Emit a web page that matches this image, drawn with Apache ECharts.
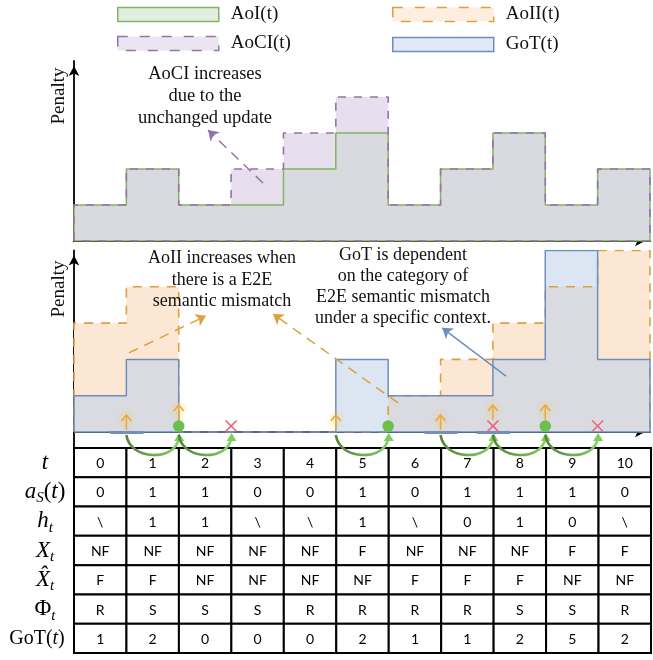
<!DOCTYPE html>
<html>
<head>
<meta charset="utf-8">
<script src="https://cdn.jsdelivr.net/npm/echarts@6/dist/echarts.min.js"></script>
<style>html,body{margin:0;padding:0;background:#fff;}#c{width:653px;height:660px;}</style>
</head>
<body>
<div id="c"></div>
<script>
// ---- data ----
const T = [0,1,2,3,4,5,6,7,8,9,10];
const aoi  = [1,2,1,1,2,3,1,2,3,1,2];
const aoci = [1,2,1,2,3,4,1,2,3,1,2];
const aoii = [3,4,0,0,0,0,1,2,3,4,5];
const got  = [1,2,0,0,0,2,1,1,2,5,2];
const sharedBottom = [1,2,0,0,0,0,1,1,2,4,2];   // grey overlap of AoII and GoT
const aS   = [0,1,1,0,0,1,0,1,1,1,0];
const hT   = ['\\','1','1','\\','\\','1','\\','0','1','0','\\'];
const xT   = ['NF','NF','NF','NF','NF','F','NF','NF','NF','F','F'];
const xHat = ['F','F','NF','NF','NF','NF','F','F','F','NF','NF'];
const phiT = ['R','S','S','S','R','R','R','R','S','S','R'];
const updateT    = [1,2,5,7,8,9];
const deliveredT = [2,6,9];
const failedT    = [3,8,10];
const mismatchT  = [1,7,8];
const transitions = [[1,2],[2,3],[5,6],[7,8],[8,9],[9,10]];
const rowKeys = ['t','aS','h','X','Xhat','Phi','GoT'];
const tableRows = [T, aS, hT, xT, xHat, phiT, got];

// annotation arrows (data coordinates)
const arrowAoCI = [[3.61,1.61],[2.56,3.08]];
const arrowAoII1 = [[1.05,2.18],[2.52,3.2]];
const arrowAoII2 = [[6.19,0.8],[3.8,3.25]];
const arrowGoT = [[8.25,1.54],[7.03,2.87]];

function stepPoints(vals, withReturn){
  const pts=[]; let i=0;
  while(i<vals.length){
    if(!(vals[i]>0)){i++;continue;}
    let j=i; while(j+1<vals.length && vals[j+1]>0) j++;
    if(pts.length) pts.push([i,null]);
    pts.push([i,0]);
    for(let k=i;k<=j;k++) pts.push([k,vals[k]]);
    pts.push([j+1,vals[j]]);
    pts.push([j+1,0]);
    if(withReturn) pts.push([i,0]);
    i=j+1;
  }
  return pts;
}

const SERIF='"Liberation Serif", "Times New Roman", serif';
const C = {green:'#82b366', purple:'#9673a6', orange:'#dca13c', blue:'#6c8ebf'};

function arrowML(pair, color, dashed){
  return {silent:true, symbol:['none','arrow'], symbolSize:10, label:{show:false},
    lineStyle:{color:color, width:1.5, type: dashed?[10,7]:'solid'},
    emphasis:{disabled:true}, animation:false,
    data:[[{coord:pair[0]},{coord:pair[1]}]]};
}

const axisLineStyle = {show:true, onZero:true, symbol:['none','arrow'], symbolSize:[8,10], symbolOffset:[0,-5], lineStyle:{color:'#000', width:1.8}};
function xAx(idx, show){
  return {type:'value', gridIndex:idx, min:0, max:11, show:show, axisLine:axisLineStyle,
    axisTick:{show:false}, axisLabel:{show:false}, splitLine:{show:false}};
}
function yAx(idx, min, max){
  return {type:'value', gridIndex:idx, min:min, max:max, axisLine:axisLineStyle,
    axisTick:{show:false}, axisLabel:{show:false}, splitLine:{show:false}};
}

const rowLabelText = {
  t: '{it|t}',
  aS: '{it|a}{sub|S}{rm|(}{it|t}{rm|)}',
  h: '{it|h}{sub|t}',
  X: '{it|X}{sub|t}',
  Xhat: '{it|X\u0302}{sub|t}',
  Phi: '{rm|\u03A6}{sub|t}',
  GoT: '{rm2|GoT(}{it2|t}{rm2e|)}'
};

function legendOf(name, left, top, fill, stroke, dash){
  return {show:true, selectedMode:false, left:left, top:top, padding:0, itemWidth:101, itemHeight:14, icon:'rect',
    textStyle:{fontFamily:SERIF, fontSize:19, color:'#111', padding:[0,0,0,7]},
    data:[{name:name, icon:'rect', itemStyle:{color:fill, borderColor:stroke, borderWidth:1.5, borderType: dash?[10,12]:'solid'}}]};
}

const chart = echarts.init(document.getElementById('c'), null, {renderer:'canvas'});
const lineBase = {type:'line', step:'end', showSymbol:false, symbol:'none', animation:false, silent:true, connectNulls:false};

chart.setOption({
  animation:false,
  legend:[
    legendOf('AoI(t)',117,5,'#e2efe0',C.green,false),
    legendOf('AoII(t)',392,5,'#fdeee0',C.orange,true),
    legendOf('AoCI(t)',117,34,'#ebe4f1',C.purple,true),
    legendOf('GoT(t)',392,35,'#e0e9f5',C.blue,false)
  ],
  grid:[
    {left:74, right:3, top:61, height:180},
    {left:74, right:3, top:250.5, height:197.5},
    {left:74, right:2, top:448, height:205}
  ],
  xAxis:[xAx(0,true), xAx(1,true), {type:'value', gridIndex:2, min:0, max:11, show:false}],
  yAxis:[yAx(0,0,5), yAx(1,-0.44,5),
    {type:'category', gridIndex:2, data:rowKeys, inverse:true, boundaryGap:true,
     axisLine:{show:false}, axisTick:{show:false}, splitLine:{show:false},
     axisLabel:{margin:29, align:'center', formatter:(v)=>rowLabelText[v],
       rich:{
         it:{fontFamily:SERIF, fontStyle:'italic', fontSize:23, lineHeight:28, color:'#000'},
         rm:{fontFamily:SERIF, fontSize:23, lineHeight:28, color:'#000'},
         sub:{fontFamily:SERIF, fontStyle:'italic', fontSize:15, lineHeight:16, verticalAlign:'bottom', color:'#000'},
         rm2:{fontFamily:SERIF, fontSize:20, lineHeight:28, color:'#000'},
         rm2e:{fontFamily:SERIF, fontSize:20, lineHeight:28, color:'#000', padding:[0,16,0,0]},
         it2:{fontFamily:SERIF, fontStyle:'italic', fontSize:20, lineHeight:28, color:'#000'}
       }}}
  ],
  graphic:[
    {type:'text', x:59, y:96, rotation:Math.PI/2, style:{text:'Penalty', font:'19px '+SERIF, fill:'#111', align:'center', verticalAlign:'middle', textAlign:'center', textVerticalAlign:'middle'}},
    {type:'text', x:59, y:289, rotation:Math.PI/2, style:{text:'Penalty', font:'19px '+SERIF, fill:'#111', align:'center', verticalAlign:'middle', textAlign:'center', textVerticalAlign:'middle'}},
    {type:'text', x:205, y:96, z:20, style:{text:'AoCI increases\ndue to the\nunchanged update', font:'18.5px '+SERIF, lineHeight:22, fill:'#111', align:'center', verticalAlign:'middle', textAlign:'center', textVerticalAlign:'middle'}},
    {type:'text', x:222, y:280, z:20, style:{text:'AoII increases when\nthere is a E2E\nsemantic mismatch', font:'18px '+SERIF, lineHeight:21.5, fill:'#111', align:'center', verticalAlign:'middle', textAlign:'center', textVerticalAlign:'middle'}},
    {type:'text', x:403, y:286.5, z:20, style:{text:'GoT is dependent\non the category of\nE2E semantic mismatch\nunder a specific context.', font:'18px '+SERIF, lineHeight:21, fill:'#111', align:'center', verticalAlign:'middle', textAlign:'center', textVerticalAlign:'middle'}}
  ],
  series:[
    // ---- top chart ----
    Object.assign({}, lineBase, {name:'AoCI(t)', xAxisIndex:0, yAxisIndex:0, data:stepPoints(aoci,false),
      lineStyle:{width:0, opacity:0}, areaStyle:{color:'#e7dfee', opacity:1}, itemStyle:{color:C.purple}}),
    Object.assign({}, lineBase, {name:'AoI(t)', xAxisIndex:0, yAxisIndex:0, data:stepPoints(aoi,true),
      lineStyle:{width:1.5, color:C.green}, areaStyle:{color:'#d9dae0', opacity:1}, itemStyle:{color:C.green}}),
    Object.assign({}, lineBase, {name:'AoCI(t)', xAxisIndex:0, yAxisIndex:0, data:stepPoints(aoci,true),
      lineStyle:{width:1.6, color:C.purple, type:[8,8]}, itemStyle:{color:C.purple},
      markLine:arrowML(arrowAoCI, C.purple, true)}),
    // ---- bottom chart ----
    Object.assign({}, lineBase, {name:'AoII(t)', xAxisIndex:1, yAxisIndex:1, data:stepPoints(aoii,false),
      lineStyle:{width:0, opacity:0}, areaStyle:{color:'#fce7d4', opacity:1}, itemStyle:{color:C.orange}}),
    Object.assign({}, lineBase, {name:'GoT(t)', xAxisIndex:1, yAxisIndex:1, data:stepPoints(got,false),
      lineStyle:{width:0, opacity:0}, areaStyle:{color:'#dce6f3', opacity:1}, itemStyle:{color:C.blue}}),
    Object.assign({}, lineBase, {name:'shared', xAxisIndex:1, yAxisIndex:1, data:stepPoints(sharedBottom,false),
      lineStyle:{width:0, opacity:0}, areaStyle:{color:'#dadbe0', opacity:1}}),
    Object.assign({}, lineBase, {name:'AoII(t)', xAxisIndex:1, yAxisIndex:1, data:stepPoints(aoii,false),
      lineStyle:{width:1.6, color:C.orange, type:[9,8]}, itemStyle:{color:C.orange},
      markLine:{silent:true, symbol:['none','arrow'], symbolSize:10, label:{show:false}, animation:false,
        lineStyle:{color:C.orange, width:1.5, type:[10,7]}, emphasis:{disabled:true},
        data:[[{coord:arrowAoII1[0]},{coord:arrowAoII1[1]}],[{coord:arrowAoII2[0]},{coord:arrowAoII2[1]}]]}}),
    Object.assign({}, lineBase, {name:'GoT(t)', xAxisIndex:1, yAxisIndex:1, data:stepPoints(got,true),
      lineStyle:{width:1.5, color:C.blue}, itemStyle:{color:C.blue},
      markLine:arrowML(arrowGoT, C.blue, false)}),
    // mismatch bars on the axis
    {type:'custom', xAxisIndex:1, yAxisIndex:1, silent:true, clip:false, z:4,
      data:mismatchT.map(t=>[t,0]),
      renderItem:(p,api)=>{const c=api.coord([api.value(0),0]);
        return {type:'rect', shape:{x:c[0]-16,y:c[1]-1,width:33,height:3}, style:{fill:'#6f8fbf'}};}},
    // update arrows
    {type:'custom', xAxisIndex:1, yAxisIndex:1, silent:true, clip:false, z:5,
      data:updateT.map(t=>[t,(deliveredT.includes(t)||failedT.includes(t))?1:0]),
      renderItem:(p,api)=>{const c=api.coord([api.value(0),0]); const raised=api.value(1);
        const base=c[1]-2-raised*10, top=base-15, x=c[0];
        const st={stroke:'#e9a93a', lineWidth:1.5, fill:null, shadowBlur:6, shadowColor:'rgba(250,200,90,0.9)'};
        return {type:'group', children:[
          {type:'line', shape:{x1:x,y1:base,x2:x,y2:top}, style:st},
          {type:'polyline', shape:{points:[[x-5,top+6],[x,top],[x+5,top+6]]}, style:st}]};}},
    // delivered dots
    {type:'custom', xAxisIndex:1, yAxisIndex:1, silent:true, clip:false, z:5,
      data:deliveredT.map(t=>[t,0]),
      renderItem:(p,api)=>{const c=api.coord([api.value(0),0]);
        return {type:'circle', shape:{cx:c[0],cy:c[1]-6,r:5.8}, style:{fill:'#6cbf4a'}};}},
    // failed crosses
    {type:'custom', xAxisIndex:1, yAxisIndex:1, silent:true, clip:false, z:5,
      data:failedT.map(t=>[t,0]),
      renderItem:(p,api)=>{const c=api.coord([api.value(0),0]); const x=c[0], y=c[1]-6, s=5.5;
        const st={stroke:'#f0607a', lineWidth:1.6};
        return {type:'group', children:[
          {type:'line', shape:{x1:x-s,y1:y-s,x2:x+s,y2:y+s}, style:st},
          {type:'line', shape:{x1:x-s,y1:y+s,x2:x+s,y2:y-s}, style:st}]};}},
    // transition arcs
    {type:'custom', xAxisIndex:1, yAxisIndex:1, silent:true, clip:false, z:10,
      data:transitions.map(d=>[d[0],d[1]]),
      renderItem:(p,api)=>{const a=api.coord([api.value(0),0]), b=api.coord([api.value(1),0]);
        const xa=a[0], xb=b[0], y=a[1];
        const grad=new echarts.graphic.LinearGradient(0,0,1,0,[{offset:0,color:'#53803a'},{offset:1,color:'#86d463'}]);
        return {type:'group', children:[
          {type:'bezierCurve', shape:{x1:xa,y1:y+3,cpx1:xa+4,cpy1:y+29,cpx2:xb-4,cpy2:y+29,x2:xb,y2:y+7},
            style:{stroke:grad, lineWidth:2.6, fill:null}},
          {type:'polygon', shape:{points:[[xb+0.5,y+1],[xb-4.5,y+9],[xb+5.5,y+9]]}, style:{fill:'#7fce5a'}}]};}},
    // table
    {type:'custom', xAxisIndex:2, yAxisIndex:2, silent:true, z:3,
      data:(function(){const d=[]; for(let r=0;r<tableRows.length;r++) for(let c=0;c<11;c++) d.push([c,r]); return d;})(),
      renderItem:(p,api)=>{const c=api.value(0), r=api.value(1);
        const p0=api.coord([c,r]), p1=api.coord([c+1,r]); const h=api.size([1,1])[1]; const w=p1[0]-p0[0];
        return {type:'group', children:[
          {type:'rect', shape:{x:p0[0],y:p0[1]-h/2,width:w,height:h}, style:{fill:'#fff', stroke:'#000', lineWidth:2}},
          {type:'text', style:{text:String(tableRows[r][c]), x:p0[0]+w/2, y:p0[1]+1, align:'center', verticalAlign:'middle',
            textAlign:'center', textVerticalAlign:'middle', font:'14px Lato, "Open Sans", sans-serif', fill:'#000'}}]};}}
  ]
});
</script>
</body>
</html>
